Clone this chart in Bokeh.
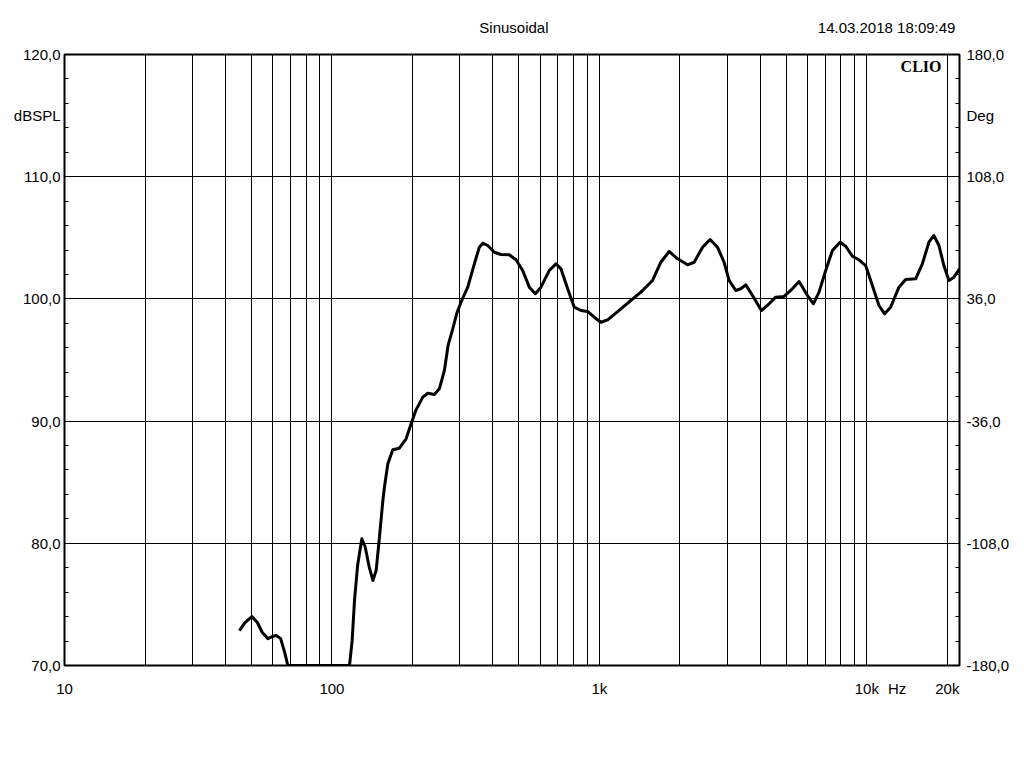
from bokeh.plotting import figure
from bokeh.models import Range1d, LinearAxis, LogAxis, FixedTicker, Label
from bokeh.embed import file_html
from bokeh.resources import INLINE

# ---------------- data ----------------
freq_hz = [45.1, 47.4, 50.2, 52.6, 54.9, 57.6, 59.8, 61.9, 64.3, 66.6, 68.4,
           116.3, 119.0, 121.4, 124.7, 129.3, 133.0, 137.7, 142.2, 146.3, 150.1, 155.0,
           157.1, 161.8, 168.8, 178.7, 189.3, 197.7, 206.3, 218.6, 228.2, 241.5, 252.1,
           263.2, 271.8, 282.9, 293.6, 303.8, 321.9, 340.7, 355.6, 366.2, 382.4, 404.6,
           428.5, 460.4, 487.6, 516.6, 546.9, 575.8, 604.6, 649.3, 688.0, 718.2, 760.8,
           805.3, 852.9, 903.4, 956.3, 1013, 1073, 1203, 1311, 1429, 1580, 1697, 1823,
           1959, 2136, 2261, 2430, 2593, 2764, 2925, 3054, 3236, 3378, 3527, 3736, 4035,
           4309, 4564, 4902, 5192, 5578, 5994, 6311, 6623, 7016, 7431, 7937, 8334, 8828,
           9344, 9897, 10483, 11097, 11654, 12268, 13181, 13962, 15218, 16124, 17061,
           17806, 18600, 19409, 20260, 21158, 22200]
spl_db = [72.86, 73.52, 74.0, 73.52, 72.70, 72.2, 72.37, 72.45, 72.2, 71.06, 70.0,
          70.0, 72.05, 75.3, 78.18, 80.37, 79.74, 78.1, 76.96, 77.77, 80.23, 83.5,
          84.59, 86.51, 87.65, 87.78, 88.55, 89.78, 90.92, 91.96, 92.28, 92.18, 92.64,
          94.14, 96.19, 97.55, 98.89, 99.73, 100.96, 102.87, 104.23, 104.56, 104.37, 103.82,
          103.63, 103.61, 103.2, 102.32, 100.96, 100.42, 100.96, 102.32, 102.87, 102.46, 100.83,
          99.32, 99.05, 98.97, 98.5, 98.09, 98.29, 99.19, 99.87, 100.55, 101.51, 103.0, 103.88,
          103.28, 102.79, 103.0, 104.23, 104.86, 104.23, 103.0, 101.51, 100.69, 100.83, 101.15,
          100.28, 99.05, 99.6, 100.14, 100.2, 100.69, 101.42, 100.28, 99.6, 100.55, 102.32,
          103.96, 104.64, 104.31, 103.49, 103.2, 102.73, 101.1, 99.46, 98.78, 99.32, 100.96,
          101.59, 101.64, 102.87, 104.64, 105.19, 104.37, 102.73, 101.51, 101.78, 102.46]

x_min, x_max = 10, 22200
db_min, db_max = 70, 120
deg_min, deg_max = -180, 180

x_label_ticks = [10, 100, 1000, 10000, 20000]
x_label_texts = ["10", "100", "1k", "10k", "20k"]
x_unit_text = "Hz"
x_grid_ticks = ([d * 10 for d in range(1, 10)] + [d * 100 for d in range(1, 10)] +
                [d * 1000 for d in range(1, 10)] + [10000, 20000])

db_ticks = [70, 80, 90, 100, 110, 120]
db_labels = ["70,0", "80,0", "90,0", "100,0", "110,0", "120,0"]
deg_ticks = [-180, -108, -36, 36, 108, 180]
deg_labels = ["-180,0", "-108,0", "-36,0", "36,0", "108,0", "180,0"]

title_text = "Sinusoidal"
date_text = "14.03.2018 18:09:49"

FONT = "Liberation Sans"
FS = "15px"

p = figure(frame_width=895, frame_height=611, x_axis_type="log",
           x_range=Range1d(x_min, x_max), y_range=Range1d(db_min, db_max),
           output_backend="svg", toolbar_location=None,
           min_border_left=64, min_border_right=60, min_border_top=54, min_border_bottom=88)
p.background_fill_color = "white"
p.border_fill_color = "white"
p.outline_line_color = "black"
p.outline_line_width = 2

# grids
p.xgrid.ticker = FixedTicker(ticks=x_grid_ticks)
p.ygrid.ticker = FixedTicker(ticks=db_ticks)
for g in (p.xgrid, p.ygrid):
    g.grid_line_color = "black"
    g.grid_line_width = 1


def style_axis(ax, standoff):
    ax.axis_line_color = None
    ax.major_tick_line_color = None
    ax.major_tick_in = 0
    ax.major_tick_out = 0
    ax.major_label_standoff = standoff
    ax.major_label_text_font = FONT
    ax.major_label_text_font_size = FS
    ax.major_label_text_color = "black"


# bottom axis
hz_pos = 12980  # where the unit text sits, right of the 10k label
xa = p.xaxis[0]
xa.ticker = FixedTicker(ticks=x_label_ticks + [hz_pos], minor_ticks=[])
xov = {t: s for t, s in zip(x_label_ticks, x_label_texts)}
xov[hz_pos] = x_unit_text
xa.major_label_overrides = xov
xa.minor_tick_line_color = None
style_axis(xa, 14)

# top "axis" carrying the header texts
title_pos = 479
date_pos = 11855
ta = LogAxis()
ta.ticker = FixedTicker(ticks=[title_pos, date_pos], minor_ticks=[])
ta.major_label_overrides = {title_pos: title_text, date_pos: date_text}
ta.minor_tick_line_color = None
style_axis(ta, 19)
p.add_layout(ta, "above")

# left axis (dB)
mid_db = (db_max + 110) / 2
ya = p.yaxis[0]
ya.ticker = FixedTicker(ticks=db_ticks + [mid_db],
                        minor_ticks=list(range(db_min, db_max + 1, 2)))
ov = {t: s for t, s in zip(db_ticks, db_labels)}
ov[mid_db] = "dBSPL"
ya.major_label_overrides = ov
ya.minor_tick_in = 4
ya.minor_tick_out = 0
ya.minor_tick_line_color = "black"
style_axis(ya, 4)

# right axis (Deg)
p.extra_y_ranges = {"deg": Range1d(deg_min, deg_max)}
deg_step = (deg_max - deg_min) / (db_max - db_min) * 2
deg_mid = deg_min + (mid_db - db_min) / (db_max - db_min) * (deg_max - deg_min)
ra = LinearAxis(y_range_name="deg")
ra.ticker = FixedTicker(ticks=deg_ticks + [deg_mid],
                        minor_ticks=[deg_min + k * deg_step for k in range(26)])
rov = {t: s for t, s in zip(deg_ticks, deg_labels)}
rov[deg_mid] = "Deg"
ra.major_label_overrides = rov
ra.minor_tick_in = 4
ra.minor_tick_out = 0
ra.minor_tick_line_color = "black"
style_axis(ra, 7)
p.add_layout(ra, "right")

# curve
p.line(freq_hz, spl_db, line_color="black", line_width=3, line_join="round")

# logo inside the frame
p.add_layout(Label(x=x_max, y=db_max, x_offset=-18, y_offset=-12, text="CLIO",
                   text_align="right", text_baseline="middle",
                   text_font="Liberation Serif", text_font_style="bold",
                   text_font_size="16px", text_color="black"))

open("out.html", "w").write(file_html(p, INLINE))
